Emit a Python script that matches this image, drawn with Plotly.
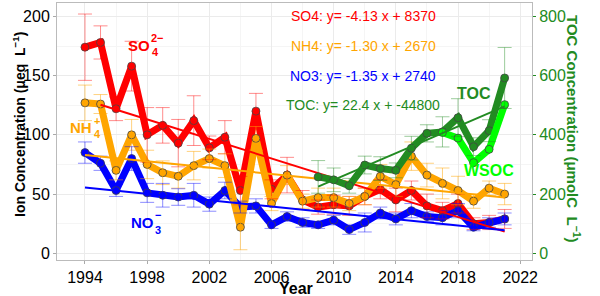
import plotly.graph_objects as go

# ---------------- data ----------------
years = list(range(1994, 2022))
so4 = [174, 178, 122, 158, 100, 108, 93, 112, 89, 98, 53, 120, 54, 66, 45, 39, 41, 40, 48, 54, 45, 53, 40, 36, 42, 25, 26, 29]
so4_err = [28, 14, 10, 21, 23, 15, 20, 21, 10, 14, 12, 15, 8, 15, 8, 6, 8, 8, 7, 8, 10, 8, 10, 7, 8, 5, 6, 8]
nh4 = [127, 126, 70, 100, 75, 68, 65, 74, 80, 74, 22, 97, 42, 66, 44, 47, 47, 42, 48, 65, 58, 82, 66, 59, 53, 44, 55, 50]
nh4_err = [15, 8, 8, 13, 12, 10, 10, 12, 8, 10, 19, 10, 6, 8, 6, 8, 8, 6, 7, 10, 10, 12, 10, 13, 12, 6, 6, 9]
no3 = [85, 76, 53, 80, 51, 49, 47.5, 49, 41.5, 53, 39, 40, 24, 31, 26, 24, 28, 20, 26, 34, 29, 36, 31, 30, 36, 22, 26, 29]
no3_err = [9, 6, 5, 10, 8, 10, 7, 10, 6, 7, 5, 6, 3, 4, 4, 3, 4, 4, 8, 5, 5, 6, 4, 6, 6, 3, 4, 5]
toc_years = list(range(2009, 2022))
toc = [258, 248, 228, 298, 286, 280, 355, 405, 410, 458, 360, 414, 592]
toc_err = [55, 40, 25, 30, 40, 25, 40, 29, 51, 64, 30, 37, 103]
wsoc_years = list(range(2017, 2022))
wsoc = [408, 389, 306, 351, 502]

# linear trend lines (start/end year and value)
so4_fit_years, so4_fit = [1995, 2021], [125.4, 18.3]
nh4_fit_years, nh4_fit = [1994, 2021], [83.0, 47.0]
no3_fit_years, no3_fit = [1994, 2021], [55.5, 19.5]
toc_fit_years, toc_fit = [2009, 2021], [225, 496]

fit_texts = ["SO4: y= -4.13 x + 8370", "NH4: y= -1.30 x + 2670",
             "NO3: y= -1.35 x + 2740", "TOC: y= 22.4 x + -44800"]
fit_text_y = [200, 175, 150, 125]

x_ticks = list(range(1994, 2023, 4))
y_ticks = [0, 50, 100, 150, 200]
y2_ticks = [0, 200, 400, 600, 800]

# ---------------- style ----------------
RED, ORANGE, BLUE, GREEN, LIME = "#FF0000", "#FFA500", "#0000FF", "#228B22", "#00FF00"
FONT = "Liberation Sans, Arial, Helvetica, sans-serif"

L, R, T, B = 57, 532, 3, 260
def px(p):
    return (p - L) / (R - L)
def py(p):
    return (B - p) / (B - T)

fig = go.Figure()

def main_line(x, y, color, yaxis="y"):
    fig.add_trace(go.Scatter(
        x=x, y=y, mode="lines+markers", yaxis=yaxis,
        line=dict(color=color, width=7),
        marker=dict(size=8, color=color, line=dict(color="#444444", width=0.8)),
        hoverinfo="skip"))

def err_bars(x, y, err, rgba, yaxis="y"):
    fig.add_trace(go.Scatter(
        x=x, y=y, mode="markers", yaxis=yaxis,
        marker=dict(size=1, color="rgba(0,0,0,0)"),
        error_y=dict(type="data", array=err, color=rgba, thickness=1, width=7),
        hoverinfo="skip"))

def fit_line(x, y, color, yaxis="y"):
    fig.add_trace(go.Scatter(
        x=x, y=y, mode="lines", yaxis=yaxis,
        line=dict(color=color, width=2), hoverinfo="skip"))

# main ion lines
main_line(years, so4, RED)
main_line(years, no3, BLUE)
main_line(years, nh4, ORANGE)
err_bars(years, so4, so4_err, "rgba(255,0,0,0.45)")
err_bars(years, nh4, nh4_err, "rgba(255,165,0,0.5)")
err_bars(years, no3, no3_err, "rgba(0,0,255,0.45)")
fit_line(so4_fit_years, so4_fit, RED)
fit_line(nh4_fit_years, nh4_fit, ORANGE)
fit_line(no3_fit_years, no3_fit, BLUE)

# carbon lines on secondary axis
main_line(toc_years, toc, GREEN, "y2")
main_line(wsoc_years, wsoc, LIME, "y2")
err_bars(toc_years, toc, toc_err, "rgba(34,139,34,0.45)", "y2")
fit_line(toc_fit_years, toc_fit, GREEN, "y2")

annotations = []
for txt, yy, col in zip(fit_texts, fit_text_y, [RED, ORANGE, BLUE, GREEN]):
    annotations.append(dict(x=2011.9, y=yy, xref="x", yref="y", text=txt, showarrow=False,
                            font=dict(family=FONT, size=14, color=col), xanchor="center", yanchor="middle"))

def lab(text, x, y, color, size=15, xanchor="center"):
    annotations.append(dict(x=px(x), y=py(y), xref="paper", yref="paper", text="<b>%s</b>" % text,
                            showarrow=False, font=dict(family=FONT, size=size, color=color),
                            xanchor=xanchor, yanchor="middle"))

# species labels
lab("SO", 138.5, 45.5, RED)
lab("2\u2212", 149, 38, RED, 11, "left")
lab("4", 150, 52, RED, 11, "left")
lab("NH", 81, 127.5, ORANGE)
lab("+", 92, 121, ORANGE, 11, "left")
lab("4", 92, 134, ORANGE, 11, "left")
lab("NO", 142.5, 222, BLUE)
lab("\u2212", 153, 215, BLUE, 11, "left")
lab("3", 153, 229.5, BLUE, 11, "left")
lab("TOC", 473.5, 94, GREEN, 16)
lab("WSOC", 488.5, 170, LIME, 16)

# axis titles
annotations.append(dict(x=px(19), y=py(125), xref="paper", yref="paper", textangle=-90,
                        text="<b>Ion Concentration (\u03bceq  L<sup>\u22121</sup>)</b>", showarrow=False,
                        font=dict(family=FONT, size=14, color="black"), xanchor="center", yanchor="middle"))
annotations.append(dict(x=px(574), y=py(129), xref="paper", yref="paper", textangle=90,
                        text="<b>TOC Concentration (\u03bcmolC  L<sup>\u22121</sup>)</b>", showarrow=False,
                        font=dict(family=FONT, size=15, color=GREEN), xanchor="center", yanchor="middle"))
annotations.append(dict(x=px(296), y=py(288), xref="paper", yref="paper",
                        text="<b>Year</b>", showarrow=False,
                        font=dict(family=FONT, size=16, color="black"), xanchor="center", yanchor="middle"))

fig.update_layout(
    width=600, height=296,
    margin=dict(l=L, r=600 - R, t=T, b=296 - B, autoexpand=False),
    plot_bgcolor="white", paper_bgcolor="white",
    showlegend=False,
    font=dict(family=FONT, size=16, color="black"),
    annotations=annotations,
    xaxis=dict(range=[1992.2, 2022.76], tickvals=x_ticks, ticks="outside", ticklen=3,
               tickcolor="#AAAAAA", showgrid=True, gridcolor="#EBEBEB", gridwidth=1,
               minor=dict(dtick=2, tick0=1994, showgrid=True, gridcolor="#F5F5F5", ticks=""),
               showline=True, mirror=True, linecolor="#BBBBBB", linewidth=1, zeroline=False,
               automargin=False, tickfont=dict(family=FONT, size=16, color="black")),
    yaxis=dict(range=[-5.67, 211.3], tickvals=y_ticks, ticks="outside", ticklen=3,
               tickcolor="#AAAAAA", showgrid=True, gridcolor="#EBEBEB", gridwidth=1,
               minor=dict(dtick=25, tick0=0, showgrid=True, gridcolor="#F5F5F5", ticks=""),
               showline=True, mirror=True, linecolor="#BBBBBB", linewidth=1, zeroline=False,
               automargin=False, tickfont=dict(family=FONT, size=16, color="black")),
    yaxis2=dict(range=[-22.7, 845.2], tickvals=y2_ticks, overlaying="y", side="right",
                ticks="outside", ticklen=3, tickcolor=GREEN, showgrid=False, zeroline=False,
                showline=False, automargin=False,
                tickfont=dict(family=FONT, size=16, color=GREEN)),
)

fig.write_html("out.html", config={"displayModeBar": False},
               post_script="document.body.style.margin='0';document.body.style.overflow='hidden';")
